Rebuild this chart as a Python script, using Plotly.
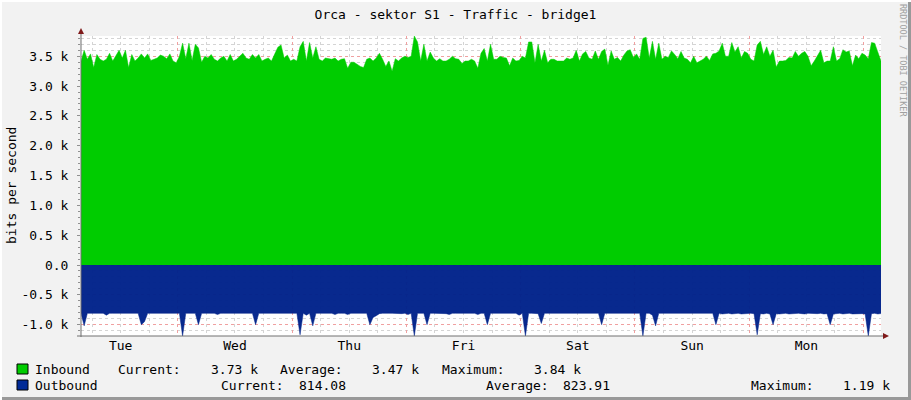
import pandas as pd
import plotly.graph_objects as go

# rrd samples, one every 40 minutes, starting Tue 03:40 (bits per second)
inicio = "2024-01-02 03:40"

inbound = [
    3420, 3600, 3450, 3540, 3310, 3530, 3450, 3420, 3450, 3550,
    3420, 3500, 3600, 3470, 3600, 3310, 3530, 3420, 3470, 3540,
    3470, 3540, 3430, 3450, 3470, 3520, 3500, 3460, 3540, 3420,
    3390, 3500, 3720, 3460, 3720, 3430, 3700, 3640, 3400, 3500,
    3470, 3530, 3450, 3420, 3470, 3500, 3420, 3530, 3420, 3450,
    3500, 3550, 3470, 3450, 3530, 3470, 3530, 3420, 3450, 3470,
    3420, 3530, 3650, 3690, 3470, 3520, 3420, 3450, 3420, 3660,
    3750, 3420, 3730, 3470, 3660, 3450, 3420, 3470, 3460, 3450,
    3470, 3420, 3450, 3460, 3300, 3400, 3400, 3360, 3330, 3310,
    3450, 3470, 3420, 3470, 3550, 3450, 3330, 3420, 3250, 3460,
    3420, 3470, 3500, 3480, 3500, 3840, 3740, 3420, 3700, 3420,
    3570, 3470, 3420, 3460, 3420, 3420, 3450, 3500, 3460, 3450,
    3380, 3420, 3420, 3450, 3420, 3300, 3550, 3630, 3420, 3700,
    3450, 3450, 3500, 3480, 3470, 3340, 3470, 3420, 3430, 3500,
    3470, 3740, 3740, 3390, 3700, 3420, 3600, 3390, 3450, 3450,
    3420, 3420, 3420, 3470, 3450, 3470, 3600, 3420, 3540, 3580,
    3470, 3450, 3590, 3450, 3580, 3620, 3350, 3590, 3450, 3480,
    3420, 3520, 3590, 3610, 3480, 3540, 3450, 3800, 3820, 3470,
    3750, 3450, 3720, 3450, 3500, 3480, 3590, 3530, 3460, 3580,
    3470, 3450, 3390, 3500, 3390, 3420, 3450, 3500, 3430, 3540,
    3550, 3590, 3720, 3500, 3500, 3730, 3570, 3660, 3470, 3580,
    3550, 3450, 3420, 3690, 3750, 3530, 3660, 3500, 3600, 3320,
    3420, 3420, 3430, 3480, 3470, 3580, 3500, 3550, 3580, 3500,
    3340, 3420, 3500, 3600, 3390, 3420, 3420, 3660, 3420, 3460,
    3610, 3570, 3590, 3340, 3520, 3460, 3550, 3520, 3460, 3730,
    3720, 3550, 3420,
]

# outbound se grafica hacia abajo (negativo)
outbound = [
    810, 1020, 810, 810, 810, 810, 810, 810, 840, 810,
    810, 810, 810, 810, 810, 810, 810, 810, 810, 1000,
    950, 810, 810, 810, 810, 810, 810, 810, 810, 810,
    810, 810, 1190, 810, 810, 810, 810, 1000, 810, 810,
    810, 810, 810, 830, 810, 810, 810, 810, 810, 810,
    810, 810, 810, 810, 810, 1000, 810, 810, 810, 810,
    810, 810, 810, 810, 810, 810, 810, 810, 810, 1170,
    810, 840, 810, 1020, 810, 810, 810, 810, 810, 810,
    830, 810, 810, 810, 830, 810, 810, 810, 810, 810,
    810, 1000, 880, 850, 815, 810, 815, 810, 810, 815,
    810, 815, 810, 830, 810, 1190, 810, 810, 810, 1000,
    810, 810, 810, 810, 810, 815, 830, 810, 810, 810,
    810, 810, 810, 815, 810, 830, 810, 810, 1000, 810,
    810, 810, 810, 810, 810, 810, 810, 810, 840, 810,
    1190, 810, 810, 810, 815, 980, 810, 810, 810, 810,
    810, 810, 810, 810, 810, 810, 810, 810, 810, 810,
    810, 810, 810, 810, 1000, 810, 810, 810, 810, 810,
    810, 810, 810, 810, 810, 810, 810, 1190, 810, 810,
    840, 1020, 810, 810, 810, 810, 810, 810, 810, 810,
    810, 810, 810, 815, 810, 810, 820, 810, 815, 810,
    1000, 810, 820, 815, 810, 820, 815, 810, 820, 815,
    820, 810, 815, 1170, 815, 820, 810, 820, 1000, 815,
    820, 815, 810, 820, 815, 820, 810, 815, 820, 810,
    815, 820, 815, 810, 820, 815, 1000, 820, 815, 810,
    820, 815, 810, 820, 815, 810, 815, 820, 1190, 815,
    810, 820, 814,
]

y_ticks = [-1000, -500, 0, 500, 1000, 1500, 2000, 2500, 3000, 3500]
y_labels = ["-1.0 k", "-0.5 k", "0.0", "0.5 k", "1.0 k", "1.5 k",
            "2.0 k", "2.5 k", "3.0 k", "3.5 k"]

# filas de la leyenda (texto, valores)
leyenda = [
    ("Inbound", "3.73 k", "3.47 k", "3.84 k"),
    ("Outbound", "814.08", "823.91", "1.19 k"),
]

tiempos = pd.date_range(inicio, periods=len(inbound), freq="40min")
fin = tiempos[-1]

VERDE = "#00CC00"
AZUL = "#002A97"
FUENTE = "DejaVu Sans Mono"

fig = go.Figure()
fig.add_trace(go.Scatter(
    x=tiempos, y=inbound, mode="lines", fill="tozeroy",
    line=dict(color=VERDE, width=0.5), fillcolor=VERDE, hoverinfo="skip"))
fig.add_trace(go.Scatter(
    x=tiempos, y=[-v for v in outbound], mode="lines", fill="tozeroy",
    line=dict(color="#002288", width=0.5), fillcolor="rgba(0,34,138,0.97)",
    hoverinfo="skip"))

W, H = 911, 400
L, R, T, B = 81, 30, 36, 64


def px(x):  # pixel -> paper
    return (x - L) / (W - L - R)


def py(y):
    return (H - B - y) / (H - T - B)


formas = []
# ejes con flechitas estilo rrdtool
formas.append(dict(type="line", xref="paper", yref="paper", x0=0, x1=0,
                   y0=py(337), y1=py(31), line=dict(color="#707070", width=1)))
formas.append(dict(type="line", xref="paper", yref="paper", x0=px(77), x1=px(884),
                   y0=0, y1=0, line=dict(color="#707070", width=1)))
formas.append(dict(type="path", xref="paper", yref="paper",
                   path=f"M {px(78)} {py(34)} L {px(84)} {py(34)} L {px(81)} {py(28)} Z",
                   fillcolor="#7F1A1A", line=dict(width=0)))
formas.append(dict(type="path", xref="paper", yref="paper",
                   path=f"M {px(883)} {py(333)} L {px(883)} {py(339)} L {px(889)} {py(336)} Z",
                   fillcolor="#7F1A1A", line=dict(width=0)))
# cuadraditos de la leyenda
for i, color in enumerate([VERDE, AZUL]):
    y0 = 364 + 16 * i
    formas.append(dict(type="rect", xref="paper", yref="paper",
                       x0=px(17), x1=px(28), y0=py(y0), y1=py(y0 + 10),
                       fillcolor=color, line=dict(color="#000000", width=1)))
# borde 3D del canvas
formas.append(dict(type="line", xref="paper", yref="paper", x0=px(0), x1=px(W),
                   y0=py(H - 1.5), y1=py(H - 1.5), line=dict(color="#999999", width=3)))
formas.append(dict(type="line", xref="paper", yref="paper", x0=px(W - 1.5), x1=px(W - 1.5),
                   y0=py(0), y1=py(H), line=dict(color="#999999", width=3)))
formas.append(dict(type="line", xref="paper", yref="paper", x0=px(0), x1=px(W),
                   y0=py(1), y1=py(1), line=dict(color="#FFFFFF", width=2)))
formas.append(dict(type="line", xref="paper", yref="paper", x0=px(1), x1=px(1),
                   y0=py(0), y1=py(H), line=dict(color="#FFFFFF", width=2)))

notas = []


def texto(t, x, y, anchor="left", size=13, color="#000000", angle=0):
    notas.append(dict(text=t, x=px(x), y=py(y), xref="paper", yref="paper",
                      xanchor=anchor, yanchor="middle", showarrow=False,
                      textangle=angle, font=dict(family=FUENTE, size=size, color=color)))


# fila Inbound
nom, cur, avg, mx = leyenda[0]
texto(nom, 33, 369)
texto("Current:", 116, 369)
texto(cur, 260, 369, "right")
texto("Average:", 278, 369)
texto(avg, 421, 369, "right")
texto("Maximum:", 440, 369)
texto(mx, 583, 369, "right")
# fila Outbound
nom, cur, avg, mx = leyenda[1]
texto(nom, 33, 385)
texto("Current:", 219, 385)
texto(cur, 348, 385, "right")
texto("Average:", 484, 385)
texto(avg, 612, 385, "right")
texto("Maximum:", 749, 385)
texto(mx, 892, 385, "right")

texto("RRDTOOL / TOBI OETIKER", 903, 60, "center", size=8.5, color="#A0A0A0", angle=90)
texto("bits per second", 11, 186, "center", angle=-90)

fig.update_layout(
    width=W, height=H,
    margin=dict(l=L, r=R, t=T, b=B),
    paper_bgcolor="#F2F2F2",
    plot_bgcolor="#FFFFFF",
    showlegend=False,
    title=dict(text="Orca - sektor S1 - Traffic - bridge1", x=0.5, xref="container",
               xanchor="center", y=1 - 14 / H, yanchor="middle",
               font=dict(family=FUENTE, size=13, color="#000000")),
    font=dict(family=FUENTE, size=13, color="#000000"),
    shapes=formas,
    annotations=notas,
)

fig.update_xaxes(
    range=[tiempos[0], fin],
    type="date",
    tickmode="linear", tick0="2024-01-02", dtick=86400000,
    tickformat="%a", ticklabelmode="period",
    showgrid=True, gridcolor="#F0A0A0", griddash="dot", gridwidth=1,
    minor=dict(dtick=6 * 3600000, tick0="2024-01-02", showgrid=True,
               gridcolor="#D4D4D4", griddash="dot"),
    ticks="", showline=False, zeroline=False,
    tickfont=dict(family=FUENTE, size=13, color="#000000"),
)

fig.update_yaxes(
    range=[-1190, 3840],
    tickmode="array", tickvals=y_ticks, ticktext=y_labels,
    showgrid=True, gridcolor="#F0A0A0", griddash="dot",
    minor=dict(dtick=100, tick0=0, showgrid=True, gridcolor="#D4D4D4",
               griddash="dot", ticks="outside", ticklen=2, tickcolor="#909090"),
    ticks="outside", ticklen=3, tickcolor="#909090", ticklabelstandoff=6,
    showline=False, zeroline=False,
    tickfont=dict(family=FUENTE, size=13, color="#000000"),
)

# sin margen del body, asi el grafico queda pegado a la esquina
fig.write_html("out.html", config={"displayModeBar": False},
               post_script="document.body.style.margin='0';")
